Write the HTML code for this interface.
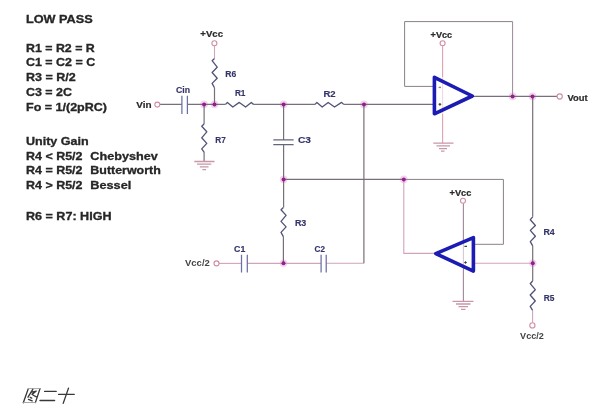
<!DOCTYPE html>
<html><head><meta charset="utf-8">
<style>
html,body{margin:0;padding:0;background:#fff;}
body{width:603px;height:412px;overflow:hidden;position:relative;}
svg{position:absolute;left:0;top:0;display:block;filter:blur(0.35px);}
.t{font-family:"Liberation Sans",sans-serif;font-weight:bold;font-size:10.7px;fill:#262626;stroke:#262626;stroke-width:0.3;}
.l{font-family:"Liberation Sans",sans-serif;font-weight:bold;font-size:8.5px;fill:#34346a;stroke:#34346a;stroke-width:0.15;}
.k{font-family:"Liberation Sans",sans-serif;font-weight:bold;font-size:9px;fill:#2a2a2a;stroke:#2a2a2a;stroke-width:0.2;}
.w{stroke:#787078;stroke-width:1.2;fill:none;}
.q{stroke:#d0a4bc;stroke-width:1.1;fill:none;}
.g{stroke:#8a8088;stroke-width:1;fill:none;}
.p{stroke:#e0a0b6;stroke-width:1.1;fill:none;}
.gp{stroke:#c898aa;stroke-width:1.3;fill:none;}
.z{stroke:#525278;stroke-width:1.3;fill:none;stroke-linejoin:round;}
.c{stroke:#6a70a4;stroke-width:1.25;fill:none;}
.o{stroke:#1c1cb4;stroke-width:3.6;fill:none;stroke-linejoin:round;}
.d{fill:#8e2288;}
.h{fill:#f7d2f0;}
.tm{stroke:#d08ca6;stroke-width:1.1;fill:#fff;}
</style></head><body>
<svg width="603" height="412" viewBox="0 0 603 412">
<!-- left text -->
<text class="t" x="26" y="23.25" textLength="66.7" lengthAdjust="spacingAndGlyphs">LOW PASS</text>
<text class="t" x="26" y="51.95" textLength="68.8" lengthAdjust="spacingAndGlyphs">R1 = R2 = R</text>
<text class="t" x="26" y="66.45" textLength="69.2" lengthAdjust="spacingAndGlyphs">C1 = C2 = C</text>
<text class="t" x="26" y="81.45" textLength="49.8" lengthAdjust="spacingAndGlyphs">R3 = R/2</text>
<text class="t" x="26" y="96.35" textLength="46" lengthAdjust="spacingAndGlyphs">C3 = 2C</text>
<text class="t" x="26" y="111.25" textLength="81" lengthAdjust="spacingAndGlyphs">Fo = 1/(2pRC)</text>
<text class="t" x="26" y="145.25" textLength="62.7" lengthAdjust="spacingAndGlyphs">Unity Gain</text>
<text class="t" x="26" y="159.85" textLength="56.5" lengthAdjust="spacingAndGlyphs">R4 &lt; R5/2</text>
<text class="t" x="26" y="174.45" textLength="56.5" lengthAdjust="spacingAndGlyphs">R4 = R5/2</text>
<text class="t" x="26" y="189.15" textLength="56.5" lengthAdjust="spacingAndGlyphs">R4 &gt; R5/2</text>
<text class="t" x="90.3" y="159.85" textLength="67.5" lengthAdjust="spacingAndGlyphs">Chebyshev</text>
<text class="t" x="90.3" y="174.45" textLength="70.5" lengthAdjust="spacingAndGlyphs">Butterworth</text>
<text class="t" x="90.3" y="189.15" textLength="41" lengthAdjust="spacingAndGlyphs">Bessel</text>
<text class="t" x="26" y="219.85" textLength="85.5" lengthAdjust="spacingAndGlyphs">R6 = R7: HIGH</text>

<g class="h">
<circle cx="204.1" cy="104.4" r="3.8"/>
<circle cx="214.5" cy="104.4" r="3.8"/>
<circle cx="283.6" cy="104.4" r="3.8"/>
<circle cx="364" cy="104.4" r="3.8"/>
<circle cx="283.6" cy="179.4" r="3.8"/>
<circle cx="403.8" cy="179.4" r="3.8"/>
<circle cx="283.5" cy="263.3" r="3.8"/>
<circle cx="512.6" cy="96.4" r="3.8"/>
<circle cx="532.5" cy="96.4" r="3.8"/>
<circle cx="532.8" cy="263.3" r="3.8"/>
</g>
<!-- feedback wires (gray) -->
<path class="g" d="M434 86.4H404.6V21.6H512.6"/>
<path class="g" style="stroke:#9a8898" d="M512.6 21.6V96.4"/>
<path class="g" d="M473.4 244.3H503.4V179.4H403.8"/>

<!-- main wires -->
<path class="w" d="M160 104.4H181.9M187.4 104.4H225.6M253.5 104.4H315.1M343.6 104.4H434"/>
<path class="w" d="M214.5 104.4V87.8"/>
<path class="q" d="M214.5 58.5V45.8"/>
<path class="w" d="M204.1 104.4V124M204.1 152.1V161.5"/>
<path class="w" d="M283.6 104.4V139.9M283.6 144.5V207.5M283.4 236.6V263.3"/>
<path class="w" d="M283.6 179.4H403.8"/>
<path class="q" d="M219 263.4H241.5"/>
<path class="q" d="M247.3 263.4H321.1M326.2 263.3H363.9"/>
<path class="w" d="M363.9 263.3V104.4"/>
<path class="w" d="M472 96.4H557"/>
<path class="w" d="M532.7 96.4V216.8M532.7 245.9V281"/>
<path class="q" d="M532.6 310.4V322.6"/>
<path class="q" d="M403.8 179.4V253.4H434.3"/>
<path class="q" d="M473.4 263.3H532.7"/>

<!-- supply lines pink -->
<path class="p" d="M442.6 45.7V77.3M442.6 113.8V143.2"/>
<path class="p" style="stroke:#f2d8e2" d="M442.6 77.3V113.8"/>
<path class="p" style="stroke:#a08898" d="M463.4 203.3V241.7M463.4 266.3V301.2"/>
<path class="p" style="stroke:#d8c8d4" d="M463.4 241.7V266.3"/>
<!-- grounds -->
<path class="gp" d="M433.3 143.2H453.5M436.5 145.9H450M439 148.6H447M441 151.2H444.5"/>
<path class="gp" d="M452.5 301.3H473.5M456 304H470.5M458.5 306.7H468M461 309.4H465.5"/>
<path class="gp" d="M194.3 161.5H214.5M197 164.2H211.3M199.8 166.9H208.5M202.4 169.6H206"/>

<!-- resistors -->
<path class="z" d="M225.6 104.4 L227.4 102.4 L232.8 107.0 L239.3 102.4 L245.6 107.0 L251.3 102.4 L253.6 104.4"/>
<path class="z" d="M315.1 104.4 L316.9 102.4 L322.2 107.0 L328.2 102.4 L334.5 107.0 L341.6 102.4 L343.7 104.4"/>
<path class="z" d="M214.5 58.5 L212.1 60.7 L217.2 67.2 L212.1 72.5 L217.2 78.2 L212.1 83.4 L214.5 87.8"/>
<path class="z" d="M204.1 124.0 L201.7 126.3 L206.8 131.8 L201.7 137.8 L206.8 143.4 L201.7 148.9 L204.1 152.1"/>
<path class="z" d="M283.4 207.5 L281.0 209.8 L286.1 215.4 L281.0 221.4 L286.1 226.9 L281.0 232.4 L283.4 236.6"/>
<path class="z" d="M532.7 216.8 L530.3 219.7 L535.4 225.5 L530.3 230.4 L535.4 236.2 L530.3 241.6 L532.7 245.9"/>
<path class="z" d="M532.6 281.0 L530.2 283.7 L535.3 289.7 L530.2 295.0 L535.3 301.0 L530.2 306.4 L532.6 310.4"/>

<!-- capacitors -->
<path class="c" d="M181.9 95.8V114.1M187.4 95.8V114.1"/>
<path class="c" style="stroke:#646680" d="M273.3 139.9H293.6M273.3 144.5H293.6"/>
<path class="c" d="M241.5 254.7V272.4M247.3 254.7V272.4"/>
<path class="c" d="M321.1 254.7V272.4M326.2 254.7V272.4"/>

<!-- op-amps -->
<path class="o" d="M434.4 77.3V113.8L472.3 96Z"/>
<path class="o" d="M473.4 237.6V271.1L435.8 253.6Z"/>
<path d="M438.6 87.4h2.4" stroke="#888" stroke-width="1.4"/><path d="M438.6 104.4h2.6M439.9 103.1v2.6" stroke="#444" stroke-width="1.1"/>
<path d="M464.4 246.3h2.6M464.2 262.5h2.6M465.5 261.2v2.6" stroke="#444" stroke-width="1.2"/>

<!-- terminals -->
<circle class="tm" cx="157.3" cy="104.6" r="2.5"/>
<circle class="tm" cx="214.4" cy="43.2" r="2.5"/>
<circle class="tm" cx="442.6" cy="43.2" r="2.5"/>
<circle class="tm" cx="463" cy="200.8" r="2.5"/>
<circle class="tm" cx="559.7" cy="96.5" r="2.6"/>
<circle class="tm" cx="216.5" cy="263.4" r="2.5"/>
<circle class="tm" cx="532.4" cy="325.4" r="2.6"/>

<!-- junction dots -->
<g class="d">
<circle cx="204.1" cy="104.4" r="2"/>
<circle cx="214.5" cy="104.4" r="2"/>
<circle cx="283.6" cy="104.4" r="2"/>
<circle cx="364" cy="104.4" r="2"/>
<circle cx="283.6" cy="179.4" r="2"/>
<circle cx="403.8" cy="179.4" r="2"/>
<circle cx="283.5" cy="263.3" r="2"/>
<circle cx="512.6" cy="96.4" r="2"/>
<circle cx="532.5" cy="96.4" r="2"/>
<circle cx="532.8" cy="263.3" r="2"/>
</g>

<!-- labels -->
<text class="k" style="font-size:9.5px" x="136.3" y="108.2" textLength="15.3" lengthAdjust="spacingAndGlyphs">Vin</text>
<text class="k" style="font-size:9.5px" x="567.5" y="100.9" textLength="20.1" lengthAdjust="spacingAndGlyphs">Vout</text>
<text class="k" x="200.3" y="37.2" textLength="22.7" lengthAdjust="spacingAndGlyphs">+Vcc</text>
<text class="k" x="430.6" y="37.9" textLength="21.6" lengthAdjust="spacingAndGlyphs">+Vcc</text>
<text class="k" x="449.5" y="195.5" textLength="21.9" lengthAdjust="spacingAndGlyphs">+Vcc</text>
<text class="k" style="fill:#444;stroke:none" x="185" y="266.2" textLength="24.8" lengthAdjust="spacingAndGlyphs">Vcc/2</text>
<text class="k" style="fill:#444;stroke:none" x="520.1" y="338.9" textLength="23.7" lengthAdjust="spacingAndGlyphs">Vcc/2</text>
<text class="l" x="176" y="93" textLength="14" lengthAdjust="spacingAndGlyphs">Cin</text>
<text class="l" x="225.3" y="76.7" textLength="11" lengthAdjust="spacingAndGlyphs">R6</text>
<text class="l" x="234.9" y="96.2" textLength="10.6" lengthAdjust="spacingAndGlyphs">R1</text>
<text class="l" x="323.4" y="96.6" textLength="12.2" lengthAdjust="spacingAndGlyphs">R2</text>
<text class="l" x="215.3" y="142.7" textLength="10.5" lengthAdjust="spacingAndGlyphs">R7</text>
<text class="l" x="297.9" y="142.7" textLength="13" lengthAdjust="spacingAndGlyphs">C3</text>
<text class="l" x="294.9" y="226" textLength="11.4" lengthAdjust="spacingAndGlyphs">R3</text>
<text class="l" x="234.1" y="251.6" textLength="11.2" lengthAdjust="spacingAndGlyphs">C1</text>
<text class="l" x="314.6" y="251.5" textLength="10.4" lengthAdjust="spacingAndGlyphs">C2</text>
<text class="l" x="543.4" y="235" textLength="11.3" lengthAdjust="spacingAndGlyphs">R4</text>
<text class="l" x="543.8" y="300.7" textLength="10.7" lengthAdjust="spacingAndGlyphs">R5</text>

<!-- caption 图二十 -->
<g stroke="#383838" stroke-width="1.35" fill="none" stroke-linecap="round" stroke-linejoin="round">
<path d="M28.3 388.6L23.3 402.8M40 388.6L35.4 402.6"/>
<path d="M28.3 388.6H40M23.6 402.5H35.4" stroke="#a8a8a8" stroke-width="1"/>
<path d="M32.8 389.3L28 397.2M30.8 392.3L36.3 391.1C34.8 392.4 33.2 393.4 32 394.3C33.5 395.5 35 396.3 36.5 396.9"/>
<path d="M30.2 397.4L31.7 398.1M28.5 399.4L32.2 400.9"/>
<path d="M44.6 391.4H56.2M40 400.5H54.6"/>
<path d="M58.6 394.4H74.2M68.5 388.1L63.2 403.4"/>
</g>
</svg>
</body></html>
